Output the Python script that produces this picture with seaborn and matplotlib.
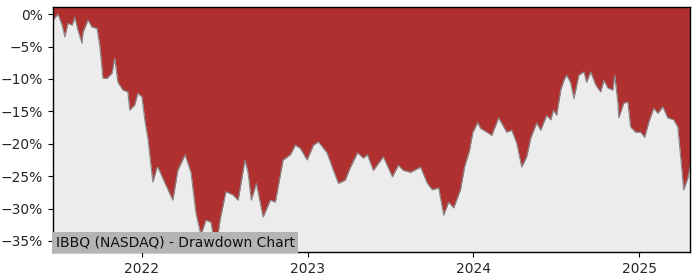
import matplotlib
matplotlib.use("Agg")
import matplotlib.pyplot as plt
from matplotlib.ticker import FuncFormatter
import pandas as pd
import seaborn as sns

dates = [
    "2021-06-19", "2021-06-30", "2021-07-09", "2021-07-15", "2021-07-22", "2021-07-31",
    "2021-08-06", "2021-08-13", "2021-08-22", "2021-08-24", "2021-09-04", "2021-09-13",
    "2021-09-24", "2021-09-30", "2021-10-07", "2021-10-16", "2021-10-27", "2021-11-02",
    "2021-11-09", "2021-11-20", "2021-12-01", "2021-12-05", "2021-12-16", "2021-12-23",
    "2022-01-01", "2022-01-08", "2022-01-14", "2022-01-25", "2022-02-03", "2022-02-05",
    "2022-02-21", "2022-03-10", "2022-03-21", "2022-04-06", "2022-04-19", "2022-04-30",
    "2022-05-11", "2022-05-22", "2022-06-02", "2022-06-13", "2022-06-22", "2022-07-05",
    "2022-07-21", "2022-08-01", "2022-08-16", "2022-08-23", "2022-08-30", "2022-09-10",
    "2022-09-25", "2022-10-11", "2022-10-22", "2022-11-08", "2022-11-24", "2022-12-05",
    "2022-12-16", "2022-12-31", "2023-01-14", "2023-01-25", "2023-02-13", "2023-02-27",
    "2023-03-10", "2023-03-25", "2023-04-05", "2023-04-21", "2023-05-04", "2023-05-13",
    "2023-05-26", "2023-06-17", "2023-07-07", "2023-07-20", "2023-07-31", "2023-08-16",
    "2023-09-07", "2023-09-22", "2023-10-03", "2023-10-17", "2023-10-28", "2023-11-08",
    "2023-11-19", "2023-12-04", "2023-12-13", "2023-12-24", "2023-12-31", "2024-01-11",
    "2024-01-17", "2024-01-24", "2024-02-11", "2024-02-26", "2024-03-15", "2024-03-26",
    "2024-04-06", "2024-04-17", "2024-04-28", "2024-05-07", "2024-05-20", "2024-05-29",
    "2024-06-11", "2024-06-20", "2024-06-26", "2024-07-03", "2024-07-12", "2024-07-19",
    "2024-07-25", "2024-08-03", "2024-08-10", "2024-08-21", "2024-09-01", "2024-09-07",
    "2024-09-16", "2024-09-27", "2024-10-08", "2024-10-15", "2024-10-24", "2024-11-04",
    "2024-11-08", "2024-11-15", "2024-11-17", "2024-11-28", "2024-12-07", "2024-12-13",
    "2024-12-24", "2025-01-04", "2025-01-13", "2025-01-22", "2025-02-02", "2025-02-11",
    "2025-02-22", "2025-03-05", "2025-03-18", "2025-03-27", "2025-04-03", "2025-04-09",
    "2025-04-18", "2025-04-23",
]
drawdown = [
    -0.9, 0.0, -1.7, -3.5, -1.4, -1.7,
    -0.5, -2.5, -4.5, -2.8, -0.9, -2.0,
    -2.2, -4.8, -9.9, -9.9, -9.1, -6.8,
    -10.5, -11.7, -12.0, -14.8, -14.0, -12.2,
    -12.8, -16.7, -19.1, -25.9, -23.7, -23.6,
    -26.1, -28.7, -24.1, -21.7, -24.4, -30.7,
    -34.1, -31.8, -32.1, -36.4, -31.8, -27.4,
    -27.9, -28.7, -22.5, -24.5, -28.7, -26.1,
    -31.3, -28.7, -29.0, -22.5, -21.7, -20.2,
    -20.7, -22.5, -20.2, -19.7, -21.4, -24.1,
    -26.1, -25.6, -23.7, -21.4, -22.2, -21.7,
    -24.1, -22.0, -25.1, -23.3, -24.1, -24.4,
    -23.6, -26.1, -27.1, -26.8, -31.0, -29.0,
    -29.9, -27.1, -23.6, -21.0, -18.3, -16.7,
    -17.6, -17.9, -18.7, -16.0, -18.2, -17.9,
    -19.9, -23.6, -22.0, -19.1, -16.8, -17.9,
    -15.6, -16.3, -14.8, -15.6, -11.7, -10.2,
    -9.4, -10.6, -13.0, -9.4, -8.9, -10.5,
    -8.9, -10.9, -12.0, -10.2, -11.4, -11.7,
    -9.4, -13.7, -16.0, -13.7, -13.6, -17.4,
    -18.2, -18.2, -19.0, -16.7, -14.5, -15.3,
    -14.3, -16.0, -16.3, -17.4, -22.5, -27.1,
    -25.3, -23.5,
]
y_ticks = [0, -5, -10, -15, -20, -25, -30, -35]
x_ticks = ["2022-01-01", "2023-01-01", "2024-01-01", "2025-01-01"]
x_tick_labels = ["2022", "2023", "2024", "2025"]
title = "IBBQ (NASDAQ) - Drawdown Chart"

df = pd.DataFrame({"date": pd.to_datetime(dates), "drawdown": drawdown})

sns.set_style("ticks")
plt.rcParams["font.family"] = ["DejaVu Sans"]

fig = plt.figure(figsize=(7, 2.8), dpi=100)
ax = fig.add_axes([53 / 700, 1 - 252 / 280, (690 - 53) / 700, (252 - 7) / 280])
ax.set_facecolor("#ececec")

y_top = 1.1
ax.fill_between(df["date"], df["drawdown"], y_top, color="#b03030", linewidth=0)
sns.lineplot(data=df, x="date", y="drawdown", ax=ax, color="#888888", linewidth=0.8)

ax.set_xlim(df["date"].iloc[0], df["date"].iloc[-1])
ax.set_ylim(-36.7, y_top)
ax.set_yticks(y_ticks)
ax.yaxis.set_major_formatter(FuncFormatter(lambda v, p: f"{int(v)}%".replace("-", "\u2212")))
ax.set_xticks(pd.to_datetime(x_ticks))
ax.set_xticklabels(x_tick_labels)
ax.set_xlabel("")
ax.set_ylabel("")
ax.tick_params(labelsize=10, length=3.5, width=0.8, color="black")
for s in ax.spines.values():
    s.set_color("black")
    s.set_linewidth(1.0)

ax.text(0.004, 0.012, title, transform=ax.transAxes, fontsize=10, color="#111111",
        ha="left", va="bottom",
        bbox=dict(facecolor="#b4b4b4", edgecolor="none", pad=2.5))

fig.savefig("out.png", dpi=100)
